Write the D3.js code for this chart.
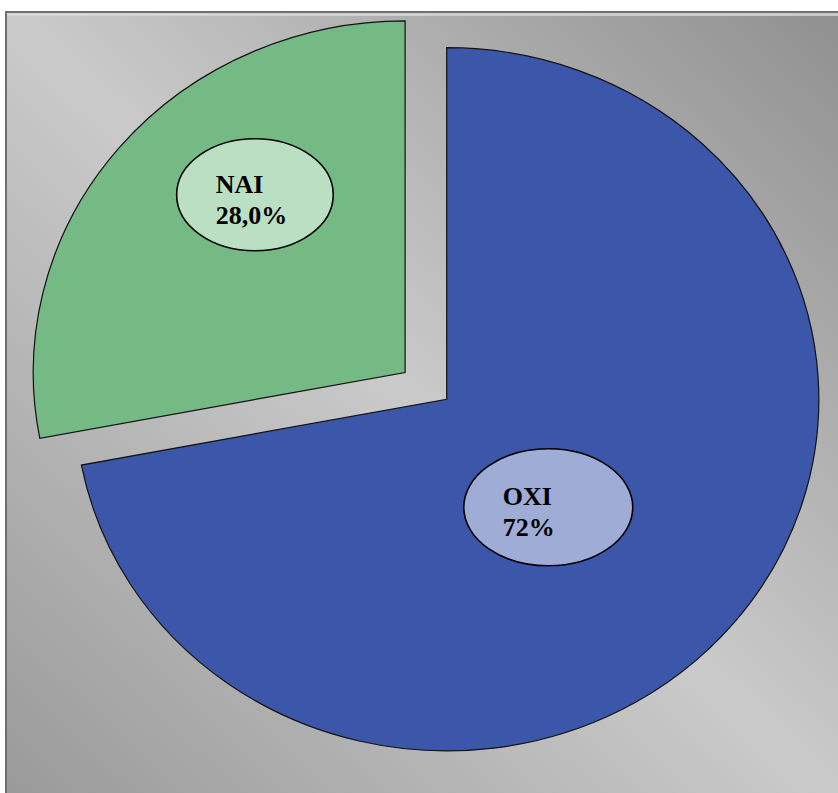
<!DOCTYPE html>
<html>
<head>
<meta charset="utf-8">
<script src="https://cdn.jsdelivr.net/npm/d3@7"></script>
<style>
  html, body { margin: 0; padding: 0; background: #ffffff; }
  svg { display: block; }
</style>
</head>
<body>
<svg id="chart" width="838" height="793"></svg>
<script>
// Share of answers
const categories = ["OXI", "NAI"];
const values = [72, 28.0];
const valueLabels = ["72%", "28,0%"];

const sliceColors = ["#3c57a9", "#75b984"];
const calloutColors = ["#9eacd6", "#bbdfc3"];

const W = 838, H = 793;
const svg = d3.select("#chart");

// Plot-area background: diagonal grey gradient inside a framed box
const defs = svg.append("defs");
const bg = defs.append("linearGradient")
  .attr("id", "bgGrad")
  .attr("x1", 0).attr("y1", 1).attr("x2", 1).attr("y2", 0);
bg.append("stop").attr("offset", 0).attr("stop-color", "#989898");
bg.append("stop").attr("offset", 0.5).attr("stop-color", "#cacaca");
bg.append("stop").attr("offset", 1).attr("stop-color", "#8e8e8e");

svg.append("rect")
  .attr("x", 6).attr("y", 12)
  .attr("width", W + 20).attr("height", H + 20)
  .attr("fill", "url(#bgGrad)")
  .attr("stroke", "#6f6f6f").attr("stroke-width", 2);
svg.append("rect")
  .attr("x", 7).attr("y", 13)
  .attr("width", W).attr("height", 3)
  .attr("fill", "#d8d8d8").attr("opacity", 0.8);

// Pie geometry (elliptical: horizontal radius larger than vertical)
const cx = 446.7, cy = 399.3;
const rx = 372, ry = 351.6;

const pie = d3.pie().sort(null).value(d => d.value)
  .startAngle(0).endAngle(2 * Math.PI);
const data = categories.map((c, i) => ({ name: c, value: values[i], label: valueLabels[i], i }));
const arcs = pie(data);

const arc = d3.arc().innerRadius(0).outerRadius(1);

// Pulled-out distance for the smaller slice
const pull = [ {x: 0, y: 0}, {x: 54, y: 42} ];

// Callout placement in unit-ellipse space relative to each slice's center
const callout = [
  { angleShift: 0.153, r: 0.411, rx: 84.5, ry: 58.5 },
  { angleShift: 0.206, r: 0.647, rx: 78.3, ry: 56 }
];

arcs.forEach((a, k) => {
  const mid = (a.startAngle + a.endAngle) / 2;
  const ox = Math.sin(mid) * pull[k].x;
  const oy = -Math.cos(mid) * pull[k].y;
  const scx = cx + ox, scy = cy + oy;

  svg.append("path")
    .attr("d", arc(a))
    .attr("transform", `translate(${scx},${scy}) scale(${rx},${ry})`)
    .attr("fill", sliceColors[k])
    .attr("stroke", "#111")
    .attr("stroke-width", 1.2)
    .attr("vector-effect", "non-scaling-stroke");

  a.scx = scx; a.scy = scy; a.mid = mid;
});

// Callout ellipses with category name and value
arcs.forEach((a, k) => {
  const c = callout[k];
  const ang = a.mid + c.angleShift;
  const lx = a.scx + Math.sin(ang) * c.r * rx;
  const ly = a.scy - Math.cos(ang) * c.r * ry;

  svg.append("ellipse")
    .attr("cx", lx).attr("cy", ly)
    .attr("rx", c.rx).attr("ry", c.ry)
    .attr("fill", calloutColors[k])
    .attr("stroke", "#000").attr("stroke-width", 1.6);

  const t = svg.append("text")
    .attr("x", lx - c.rx + 39)
    .attr("y", ly - 2)
    .attr("font-family", "'Liberation Serif', 'Times New Roman', serif")
    .attr("font-weight", "bold")
    .attr("font-size", 26)
    .attr("fill", "#000");
  t.append("tspan").attr("x", lx - c.rx + 39).attr("dy", 0).text(a.data.name);
  t.append("tspan").attr("x", lx - c.rx + 39).attr("dy", 31).text(a.data.label);
});
</script>
</body>
</html>
